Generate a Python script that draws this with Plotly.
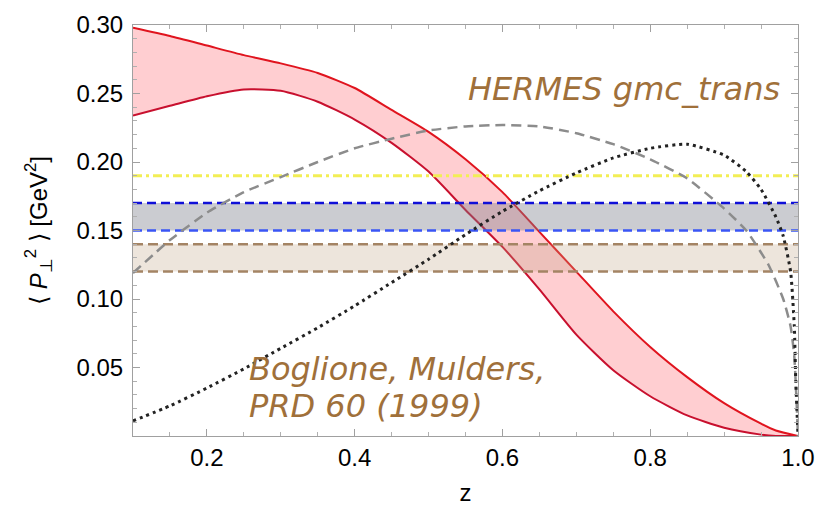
import plotly.graph_objects as go

# ---- data -------------------------------------------------------------
# Red band: upper and lower edges of <P_perp^2>(z)
z_band = [0.10, 0.15, 0.20, 0.25, 0.30, 0.35, 0.40, 0.45, 0.50, 0.55,
          0.60, 0.65, 0.70, 0.75, 0.80, 0.85, 0.90, 0.95, 0.97, 1.00]
band_upper = [0.298, 0.292, 0.285, 0.278, 0.272, 0.265, 0.254, 0.238, 0.222, 0.202,
              0.178, 0.149, 0.120, 0.091, 0.065, 0.043, 0.024, 0.009, 0.004, 0.000]
band_lower = [0.234, 0.241, 0.248, 0.253, 0.252, 0.244, 0.231, 0.214, 0.193, 0.165,
              0.138, 0.107, 0.074, 0.048, 0.029, 0.015, 0.006, 0.001, 0.000, 0.000]

# Gray dashed curve
z_gray = [0.10, 0.15, 0.20, 0.25, 0.30, 0.35, 0.40, 0.45, 0.50, 0.55, 0.60,
          0.65, 0.70, 0.75, 0.80, 0.85, 0.90, 0.93, 0.96, 0.98, 0.99, 0.995, 1.00]
gray_curve = [0.119, 0.143, 0.163, 0.178, 0.189, 0.200, 0.210, 0.217, 0.223, 0.226, 0.227,
              0.226, 0.221, 0.213, 0.202, 0.188, 0.166, 0.150, 0.125, 0.100, 0.080, 0.058, 0.000]

# Black dotted curve
z_black = [0.10, 0.15, 0.20, 0.25, 0.30, 0.35, 0.40, 0.45, 0.50, 0.55, 0.60, 0.65,
           0.70, 0.75, 0.80, 0.85, 0.90, 0.93, 0.95, 0.97, 0.98, 0.99, 0.995, 0.997, 1.00]
black_curve = [0.011, 0.022, 0.035, 0.049, 0.064, 0.079, 0.095, 0.112, 0.129, 0.147, 0.164, 0.179,
               0.192, 0.203, 0.210, 0.213, 0.205, 0.193, 0.180, 0.160, 0.146, 0.120, 0.080, 0.040, 0.000]

# Constant reference levels
z_span = [0.10, 1.00]
yellow_level = 0.19
blue_band = (0.15, 0.17)
brown_band = (0.12, 0.14)

y_ticks = [0.05, 0.10, 0.15, 0.20, 0.25, 0.30]
y_ticktext = ["0.05", "0.10", "0.15", "0.20", "0.25", "0.30"]
x_ticks = [0.2, 0.4, 0.6, 0.8, 1.0]
x_ticktext = ["0.2", "0.4", "0.6", "0.8", "1.0"]

# ---- figure -----------------------------------------------------------
fig = go.Figure()

# red band
fig.add_trace(go.Scatter(x=z_band, y=band_lower, mode="lines",
                         line=dict(color="#c8102e", width=2, shape="spline", smoothing=0.6),
                         hoverinfo="skip"))
fig.add_trace(go.Scatter(x=z_band, y=band_upper, mode="lines", fill="tonexty",
                         fillcolor="rgba(255,80,90,0.28)",
                         line=dict(color="#e0141e", width=2, shape="spline", smoothing=0.6),
                         hoverinfo="skip"))

# brown band (lower edge, then upper edge filled down to it)
fig.add_trace(go.Scatter(x=z_span, y=[brown_band[0]] * 2, mode="lines",
                         line=dict(color="#a48464", width=2.5, dash="10px,5px"),
                         hoverinfo="skip"))
fig.add_trace(go.Scatter(x=z_span, y=[brown_band[1]] * 2, mode="lines", fill="tonexty",
                         fillcolor="rgba(190,160,130,0.28)",
                         line=dict(color="#a48464", width=2.5, dash="10px,5px"),
                         hoverinfo="skip"))

# blue band
fig.add_trace(go.Scatter(x=z_span, y=[blue_band[0]] * 2, mode="lines",
                         line=dict(color="#3a55f5", width=2.5, dash="9px,5px"),
                         hoverinfo="skip"))
fig.add_trace(go.Scatter(x=z_span, y=[blue_band[1]] * 2, mode="lines", fill="tonexty",
                         fillcolor="rgba(125,128,140,0.40)",
                         line=dict(color="#1010d8", width=2.5, dash="9px,5px"),
                         hoverinfo="skip"))

# yellow dash-dot level
fig.add_trace(go.Scatter(x=z_span, y=[yellow_level] * 2, mode="lines",
                         line=dict(color="#f2ee55", width=3, dash="9px,4px,3px,4px"),
                         hoverinfo="skip"))

# gray dashed curve
fig.add_trace(go.Scatter(x=z_gray, y=gray_curve, mode="lines",
                         line=dict(color="#8c8c8c", width=2.5, dash="10px,6px",
                                   shape="spline", smoothing=0.5),
                         hoverinfo="skip"))

# black dotted curve
fig.add_trace(go.Scatter(x=z_black, y=black_curve, mode="lines",
                         line=dict(color="#222222", width=3, dash="3px,4px",
                                   shape="spline", smoothing=0.5),
                         hoverinfo="skip"))

label_color = "#a0703a"
label_font = dict(family="DejaVu Sans", size=32, color=label_color, style="italic")

fig.add_annotation(x=0.551, y=0.253, xref="x", yref="y", text="HERMES gmc_trans",
                   showarrow=False, xanchor="left", yanchor="middle", font=label_font)
fig.add_annotation(x=0.254, y=0.049, xref="x", yref="y", text="Boglione, Mulders,",
                   showarrow=False, xanchor="left", yanchor="middle", font=label_font)
fig.add_annotation(x=0.254, y=0.022, xref="x", yref="y", text="PRD 60 (1999)",
                   showarrow=False, xanchor="left", yanchor="middle", font=label_font)

axis_common = dict(showline=True, linecolor="#a0a0a0", linewidth=1, mirror="allticks",
                   ticks="inside", tickcolor="#a0a0a0", ticklen=7, tickwidth=1,
                   showgrid=False, zeroline=False, automargin=False,
                   tickfont=dict(family="Liberation Sans", size=24, color="black"))

fig.update_xaxes(range=[0.1, 1.0], tickvals=x_ticks, ticktext=x_ticktext,
                 minor=dict(ticks="inside", ticklen=4, dtick=0.05, tick0=0,
                            tickcolor="#b0b0b0", showgrid=False),
                 title=dict(text="z", font=dict(family="Liberation Sans", size=24, color="black"),
                            standoff=20),
                 ticklabelstandoff=0, **axis_common)
fig.update_yaxes(range=[0, 0.30], tickvals=y_ticks, ticktext=y_ticktext,
                 minor=dict(ticks="inside", ticklen=4, dtick=0.01, tick0=0,
                            tickcolor="#b0b0b0", showgrid=False),
                 title=dict(text="\u27e8 <i>P</i><sub>\u22a5</sub><sup>2</sup> \u27e9 [GeV<sup>2</sup>]",
                            font=dict(family="Liberation Sans", size=24, color="black"),
                            standoff=22),
                 ticklabelstandoff=4, **axis_common)

fig.update_layout(width=832, height=506, autosize=False,
                  margin=dict(l=133, r=34, t=25, b=70),
                  paper_bgcolor="white", plot_bgcolor="white",
                  showlegend=False)

fig.write_html("out.html")
